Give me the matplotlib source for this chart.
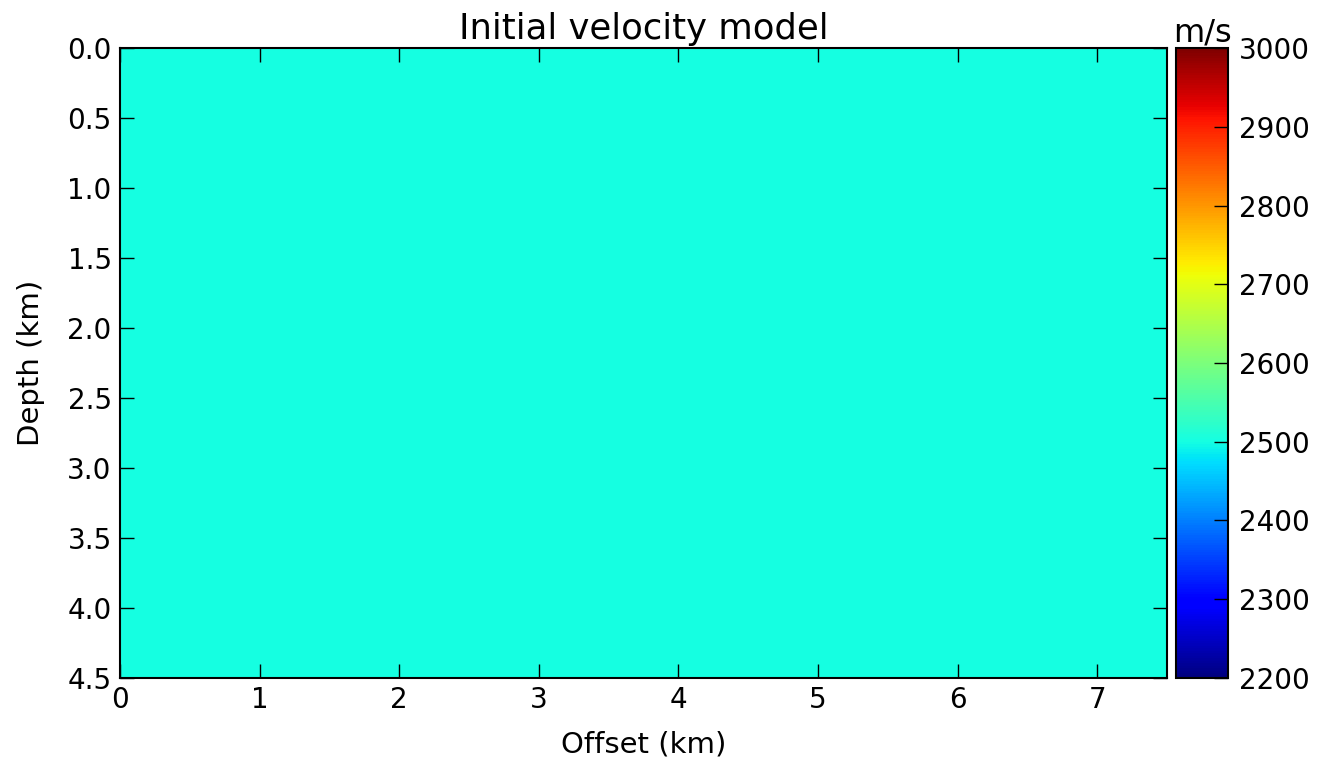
import matplotlib
matplotlib.use('Agg')
import matplotlib.pyplot as plt
import numpy as np

# Modelo de velocidad inicial (constante)
v0 = 2500.0          # velocidad (m/s)
vmin, vmax = 2200, 3000
x_max = 7.5          # offset (km)
z_max = 4.5          # profundidad (km)
nx, nz = 301, 181    # puntos de grilla

vel = np.full((nz, nx), v0)

xticks = [0, 1, 2, 3, 4, 5, 6, 7]
zticks = [0.0, 0.5, 1.0, 1.5, 2.0, 2.5, 3.0, 3.5, 4.0, 4.5]
cticks = [2200, 2300, 2400, 2500, 2600, 2700, 2800, 2900, 3000]

fig = plt.figure(figsize=(13.19, 7.66), dpi=100)
ax = fig.add_axes([0.091, 0.115, 0.7938, 0.822])
cax = fig.add_axes([0.8916, 0.115, 0.0394, 0.822])

im = ax.imshow(vel, cmap='jet', vmin=vmin, vmax=vmax, aspect='auto',
               extent=[0, x_max, z_max, 0], interpolation='nearest')
ax.set_xticks(xticks)
ax.set_yticks(zticks)
ax.set_yticklabels(['%.1f' % z for z in zticks])
ax.tick_params(direction='in', top=True, right=True, length=10, width=1,
               labelsize=20, pad=6)
ax.set_xlabel('Offset (km)', fontsize=21, labelpad=12)
ax.set_ylabel('Depth (km)', fontsize=21, labelpad=16)
ax.set_title('Initial velocity model', fontsize=25.5, pad=7)
for s in ax.spines.values():
    s.set_linewidth(1.5)

cb = fig.colorbar(im, cax=cax, ticks=cticks)
cb.ax.tick_params(direction='in', length=10, width=1, labelsize=20, pad=8)
cb.outline.set_linewidth(1.5)
cax.set_title('m/s', fontsize=23, pad=5)

fig.savefig('out.png', dpi=100, facecolor='white')
